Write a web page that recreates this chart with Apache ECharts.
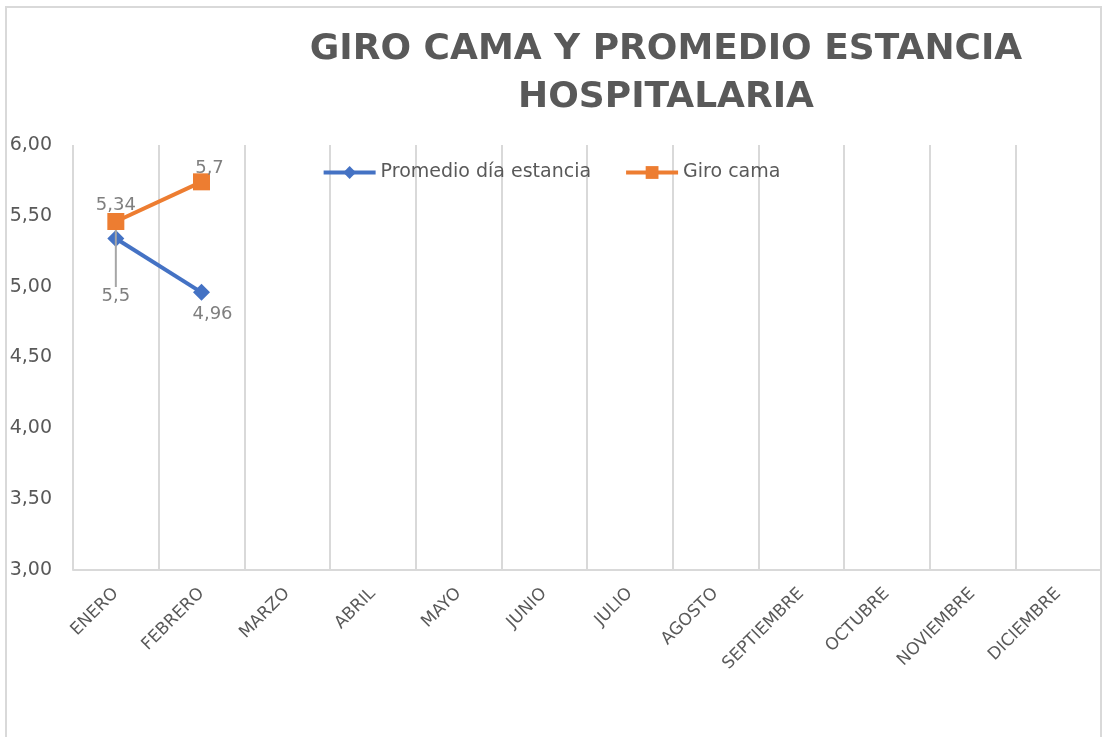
<!DOCTYPE html>
<html lang="es">
<head>
    <meta charset="UTF-8">
    <title>Giro cama</title>
    <script src="https://cdn.jsdelivr.net/npm/echarts@6/dist/echarts.min.js"></script>
    <style>
        html, body { margin: 0; padding: 0; background: #fff; }
    </style>
</head>
<body>
<div id="main" style="width: 1102px;height:737px;"></div>
<script>
    // datos
    var meses = ['ENERO', 'FEBRERO', 'MARZO', 'ABRIL', 'MAYO', 'JUNIO', 'JULIO',
        'AGOSTO', 'SEPTIEMBRE', 'OCTUBRE', 'NOVIEMBRE', 'DICIEMBRE'];
    var promedioEstancia = [5.34, 4.96];
    var giroCama = [5.46, 5.74];
    var yTicks = [3, 3.5, 4, 4.5, 5, 5.5, 6];

    var gris = '#595959';
    var fuente = 'DejaVu Sans';

    function coma(v, d) {
        return v.toFixed(d).replace('.', ',');
    }

    var myChart = echarts.init(document.getElementById('main'));

    option = {
        animation: false,
        backgroundColor: '#fff',
        graphic: [{
            type: 'rect',
            shape: { x: 6, y: 7, width: 1095, height: 760 },
            style: { fill: 'none', stroke: '#d9d9d9', lineWidth: 2 },
            silent: true
        }],
        title: {
            text: 'GIRO CAMA Y PROMEDIO ESTANCIA\nHOSPITALARIA',
            left: 661,
            top: 21,
            textAlign: 'center',
            textStyle: {
                fontFamily: fuente,
                fontWeight: 'bold',
                fontSize: 36,
                lineHeight: 48,
                color: gris
            }
        },
        legend: {
            top: 158,
            left: 'center',
            itemWidth: 52,
            itemHeight: 16,
            itemGap: 33,
            lineStyle: { width: 4 },
            textStyle: { fontFamily: fuente, fontSize: 19, color: gris },
            data: ['Promedio día estancia', 'Giro cama']
        },
        grid: {
            left: 73,
            right: 1,
            top: 145,
            bottom: 167
        },
        xAxis: {
            type: 'category',
            data: meses,
            boundaryGap: true,
            axisLine: { lineStyle: { color: '#d9d9d9', width: 2 } },
            axisTick: { show: false },
            splitLine: { show: true, lineStyle: { color: '#d9d9d9', width: 2 } },
            axisLabel: {
                interval: 0,
                rotate: 45,
                margin: 21,
                fontFamily: fuente,
                fontSize: 17,
                color: gris
            }
        },
        yAxis: {
            type: 'value',
            min: yTicks[0],
            max: yTicks[yTicks.length - 1],
            interval: 0.5,
            axisLine: { show: false },
            axisTick: { show: false },
            splitLine: { show: false },
            axisLabel: {
                margin: 21,
                fontFamily: fuente,
                fontSize: 19,
                color: gris,
                formatter: function (v) { return coma(v, 2); }
            }
        },
        series: [
            {
                name: 'Promedio día estancia',
                type: 'line',
                z: 2,
                symbol: 'diamond',
                symbolSize: 17,
                color: '#4472C4',
                lineStyle: { width: 4, color: '#4472C4' },
                label: {
                    show: true,
                    fontFamily: fuente,
                    fontSize: 18,
                    color: '#7f7f7f',
                    formatter: function (p) { return coma(p.value, 2); }
                },
                data: promedioEstancia.map(function (v, i) {
                    if (i === 0) return { value: v, label: { position: 'top', distance: 16 } };
                    return { value: v, label: { position: 'bottom', distance: 4, offset: [11, 0] } };
                })
            },
            {
                name: 'Giro cama',
                type: 'line',
                z: 3,
                symbol: 'rect',
                symbolSize: 17,
                color: '#ED7D31',
                lineStyle: { width: 4, color: '#ED7D31' },
                label: {
                    show: true,
                    fontFamily: fuente,
                    fontSize: 18,
                    color: '#7f7f7f',
                    formatter: function (p) { return coma(p.value, 1); }
                },
                labelLine: { show: true, lineStyle: { color: '#a6a6a6', width: 2 } },
                labelLayout: function (params) {
                    if (params.dataIndex === 0) return { dy: 53 };
                    return { dx: 8 };
                },
                data: giroCama.map(function (v, i) {
                    if (i === 0) return { value: v, label: { position: 'bottom', distance: 4 } };
                    return { value: v, label: { position: 'top', distance: -4 } };
                })
            }
        ]
    };

    myChart.setOption(option);
</script>
</body>
</html>
